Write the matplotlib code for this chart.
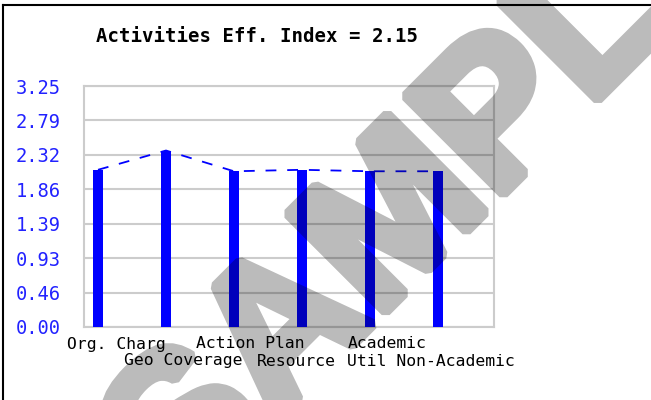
import numpy as np
import matplotlib
matplotlib.use("Agg")
import matplotlib.pyplot as plt
from matplotlib.lines import Line2D
from matplotlib import transforms
import matplotlib.patheffects as pe

# chart data
categories = ["Org. Charg", "Geo Coverage", "Action Plan", "Resource", "Academic", "Util Non-Academic"]
values = [2.12, 2.38, 2.10, 2.12, 2.10, 2.10]
index_value = 2.15
y_max = 3.25

# label placement (pixels offset from bar centre, and row)
label_dx = [18, 17, 16, -6, 17, -7]
label_row = [0, 1, 0, 1, 0, 1]

fig = plt.figure(figsize=(6.51, 4.00), dpi=100)
ax = fig.add_axes([84 / 651, 73 / 400, 410 / 651, 241 / 400])

x = np.arange(len(categories))
ax.plot(x, values, color="#0000ff", lw=1.3, ls=(0, (6, 6)), zorder=2)
ax.bar(x, values, width=0.147, color="#0000ff", zorder=3)

ax.set_xlim(-0.206, 5.824)
ax.set_ylim(0, y_max)
yt = np.linspace(0, y_max, 8)
ax.set_yticks(yt)
ax.set_yticklabels([f"{v:.2f}" for v in yt], family="DejaVu Sans Mono",
                   fontsize=13.5, color="#2222ff")
ax.tick_params(axis="y", length=0, pad=17)
ax.set_xticks([])
ax.grid(axis="y", color="#cccccc", lw=1.5, zorder=0)
for s in ax.spines.values():
    s.set_color("#cccccc")
    s.set_linewidth(1.5)

trans = transforms.blended_transform_factory(ax.transData, fig.transFigure)
for i, lab in enumerate(categories):
    t = transforms.offset_copy(trans, fig=fig, x=label_dx[i], y=0, units="dots")
    yy = 0.14 if label_row[i] == 0 else 0.0975
    ax.text(i, yy, lab, transform=t, ha="center", va="center",
            family="DejaVu Sans Mono", fontsize=11.8, color="black", clip_on=False)

fig.text(257 / 651, 1 - 37 / 400, f"Activities Eff. Index = {index_value:.2f}",
         ha="center", va="center", family="DejaVu Sans Mono",
         fontsize=13.7, fontweight="bold")

# outer frame (only top and left edges fall inside the image)
fig.add_artist(Line2D([3 / 651, 3 / 651], [0, 1 - 5 / 400], color="black", lw=1.5,
                      transform=fig.transFigure))
fig.add_artist(Line2D([3 / 651, 1], [1 - 5 / 400, 1 - 5 / 400], color="black", lw=1.5,
                      transform=fig.transFigure))


# watermark: heavy letters, drawn opaque then made see-through as one layer
def fade(im, dpi):
    im = im.copy()
    im[..., 3] *= 0.27
    return im, 0, 0


wm = fig.text(438 / 651, 1 - 186 / 400, "SAMPLE", ha="center", va="center",
              rotation=45, family="Liberation Sans", fontweight="bold", fontsize=144,
              color="black", zorder=10,
              path_effects=[pe.withStroke(linewidth=8, foreground="black",
                                          joinstyle="bevel")])
wm.set_agg_filter(fade)

fig.savefig("out.png", dpi=100)
